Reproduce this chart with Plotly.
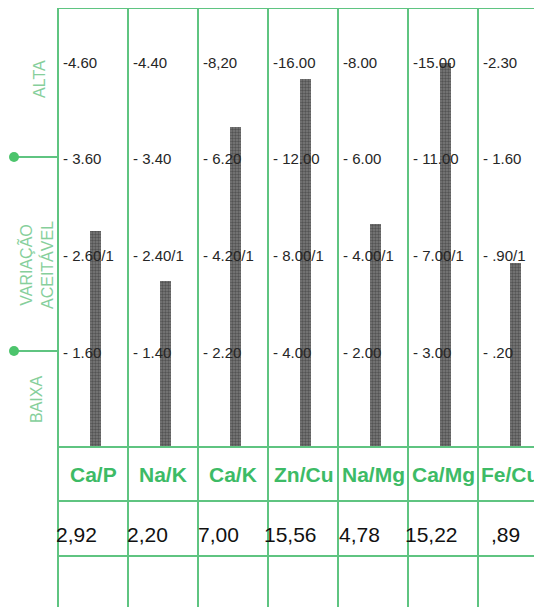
import plotly.graph_objects as go

# ---------------- data ----------------
CATEGORIES = ["Ca/P", "Na/K", "Ca/K", "Zn/Cu", "Na/Mg", "Ca/Mg", "Fe/Cu"]
VALUES = [2.92, 2.20, 7.00, 15.56, 4.78, 15.22, 0.89]
VALUE_TEXT = ["2,92", "2,20", "7,00", "15,56", "4,78", "15,22", ",89"]
# reference levels per ratio, from bottom (BAIXA) to top (ALTA)
TICK_VALUES = [
    [1.60, 2.60, 3.60, 4.60],
    [1.40, 2.40, 3.40, 4.40],
    [2.20, 4.20, 6.20, 8.20],
    [4.00, 8.00, 12.00, 16.00],
    [2.00, 4.00, 6.00, 8.00],
    [3.00, 7.00, 11.00, 15.00],
    [0.20, 0.90, 1.60, 2.30],
]
TICK_TEXT = [
    ["- 1.60", "- 2.60/1", "- 3.60", "-4.60"],
    ["- 1.40", "- 2.40/1", "- 3.40", "-4.40"],
    ["- 2.20", "- 4.20/1", "- 6.20", "-8,20"],
    ["- 4.00", "- 8.00/1", "- 12.00", "-16.00"],
    ["- 2.00", "- 4.00/1", "- 6.00", "-8.00"],
    ["- 3.00", "- 7.00/1", "- 11.00", "-15.00"],
    ["- .20", "- .90/1", "- 1.60", "-2.30"],
]

# ---------------- layout geometry (screen pixels) ----------------
W, H = 542, 607
PAGE_OFFSET = 8          # default body margin of the html page
FW, FH = W - PAGE_OFFSET, H - PAGE_OFFSET   # figure size so the page does not scroll
COL_X0 = 58
COL_W = 70
TOP_Y = 8
PLOT_BOTTOM = 447
ROW1_BOTTOM = 501
ROW2_BOTTOM = 556
TICK_LABEL_Y = [352, 253, 157, 62]   # label pixel rows, bottom -> top
LEVEL_SHIFT = 6.5                    # value level sits slightly below label text
BAR_CENTER = 37
BAR_PX = 11
VALUE_DX = [-4, -3, -2, -6, -1, -5, 11]

GREEN_LINE = "#5fc481"
GREEN_TEXT = "#3dbb66"
GREEN_SOFT = "#86cf9b"
FONT = "Liberation Sans, Arial, sans-serif"


def px(x):
    return (x - PAGE_OFFSET) / FW


def py(y):
    return 1 - (y - PAGE_OFFSET) / FH


fig = go.Figure()
layout = {}
annotations = []
n = len(CATEGORIES)

for i, cat in enumerate(CATEGORIES):
    suffix = "" if i == 0 else str(i + 1)
    xa, ya = "x" + suffix, "y" + suffix
    x0 = COL_X0 + COL_W * i
    x1 = min(x0 + COL_W, W)
    cw = x1 - x0

    t = TICK_VALUES[i]
    step = t[1] - t[0]
    px_per_step = (TICK_LABEL_Y[0] - TICK_LABEL_Y[3]) / 3.0
    lvl0_px = TICK_LABEL_Y[0] + LEVEL_SHIFT
    lvl3_px = TICK_LABEL_Y[3] + LEVEL_SHIFT
    lo = t[0] - (PLOT_BOTTOM - lvl0_px) / px_per_step * step
    hi = t[3] + (lvl3_px - TOP_Y) / px_per_step * step

    fig.add_trace(go.Bar(
        x=[cat], y=[VALUES[i] - lo], base=lo, xaxis=xa, yaxis=ya,
        width=BAR_PX / COL_W,
        marker=dict(color="#6d6d6d", line_width=0,
                    pattern=dict(shape=".", fgcolor="#2b2b2b", bgcolor="#7a7a7a",
                                 size=3, solidity=0.5)),
        showlegend=False, hoverinfo="skip",
    ))

    layout["xaxis" + suffix] = dict(
        domain=[px(x0), min(px(x1), 1.0)],
        range=[-BAR_CENTER / COL_W, (cw - BAR_CENTER) / COL_W],
        visible=False, anchor=ya, type="category",
    )
    layout["yaxis" + suffix] = dict(
        domain=[py(PLOT_BOTTOM), py(TOP_Y)],
        range=[lo, hi], visible=False, anchor=xa,
    )

    # reference-level labels inside each column
    for v, txt in zip(t, TICK_TEXT[i]):
        annotations.append(dict(
            x=px(x0 + 3), xref="paper", y=v, yref=ya, yshift=LEVEL_SHIFT,
            text=txt, showarrow=False, xanchor="left", yanchor="middle",
            font=dict(family=FONT, size=15, color="#262626"),
        ))

    # header row (ratio names)
    annotations.append(dict(
        x=px((x0 + x1) / 2), xref="paper",
        y=py((PLOT_BOTTOM + ROW1_BOTTOM) / 2), yref="paper",
        text="<b>%s</b>" % cat, showarrow=False, xanchor="center", yanchor="middle",
        font=dict(family=FONT, size=21, color=GREEN_TEXT),
    ))
    # value row
    annotations.append(dict(
        x=px(x0 + VALUE_DX[i]), xref="paper",
        y=py((ROW1_BOTTOM + ROW2_BOTTOM) / 2 + 6), yref="paper",
        text=VALUE_TEXT[i], showarrow=False, xanchor="left", yanchor="middle",
        font=dict(family=FONT, size=21, color="#111111"),
    ))

# left side legend texts (rotated)
for label, cx, cy, size in (("ALTA", 40, 79, 16),
                             ("VARIAÇÃO<br>ACEITÁVEL", 36, 265, 16),
                             ("BAIXA", 36, 400, 16)):
    annotations.append(dict(
        x=px(cx), y=py(cy), xref="paper", yref="paper", text=label,
        textangle=-90, showarrow=False, xanchor="center", yanchor="middle",
        font=dict(family=FONT, size=size, color=GREEN_SOFT),
    ))

shapes = []


def line(x0, y0, x1, y1, w=2):
    shapes.append(dict(type="line", xref="paper", yref="paper",
                       x0=px(x0), y0=py(y0), x1=px(x1), y1=py(y1),
                       line=dict(color=GREEN_LINE, width=w)))


for i in range(n):
    x = COL_X0 + COL_W * i
    line(x, PAGE_OFFSET if i == 5 else TOP_Y, x, H)
for y in (TOP_Y, PLOT_BOTTOM, ROW1_BOTTOM, ROW2_BOTTOM):
    line(COL_X0, y, W, y)
for y in (157, 351):
    line(14, y, COL_X0, y)
    shapes.append(dict(type="circle", xref="paper", yref="paper",
                       x0=px(9), x1=px(19), y0=py(y + 5), y1=py(y - 5),
                       fillcolor="#4cc46c", line=dict(width=0)))

fig.update_layout(
    width=FW, height=FH,
    margin=dict(l=0, r=0, t=0, b=0),
    paper_bgcolor="white", plot_bgcolor="rgba(0,0,0,0)",
    annotations=annotations, shapes=shapes,
    bargap=0,
    **layout,
)

fig.write_html("out.html")
